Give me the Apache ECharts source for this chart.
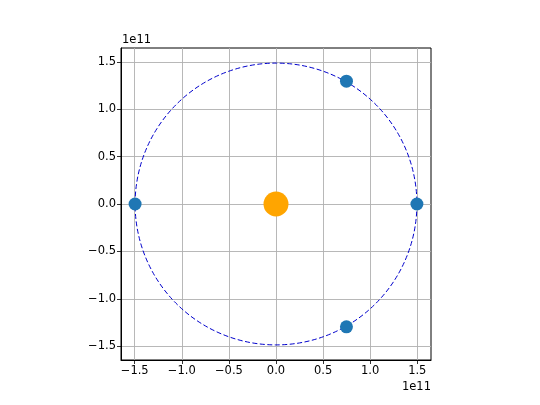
<!DOCTYPE html>
<html><head><meta charset="utf-8">
<script src="https://cdn.jsdelivr.net/npm/echarts@6/dist/echarts.min.js"></script>
<style>html,body{margin:0;padding:0;background:#fff}#c{width:540px;height:405px}</style>
</head><body><div id="c"></div>
<script>
// values in units of 1e11 m
const orbitRadius = [1.496];
const sunPos = [[0, 0]];
const earthX = [1.496, 0.748, -1.496, 0.748];
const earthY = [0, 1.2956, 0, -1.2956];
const tickValues = [-1.5, -1.0, -0.5, 0.0, 0.5, 1.0, 1.5];
const axisLimit = 1.6456;

const fmt = v => v.toFixed(1).replace('-', '\u2212');
const font = 'DejaVu Sans';
const chart = echarts.init(document.getElementById('c'), null, {renderer: 'canvas'});

function axis(isX) {
  return {
    type: 'value', min: -axisLimit, max: axisLimit,
    axisLine: {show: true, onZero: false, lineStyle: {color: '#000', width: 1}},
    axisTick: {show: true, customValues: tickValues, length: 4, inside: false, lineStyle: {color: '#000', width: 0.8}},
    axisLabel: {customValues: tickValues, formatter: fmt, color: '#000', fontFamily: font, fontSize: 11.5, margin: 5},
    splitLine: {show: true, lineStyle: {color: '#b0b0b0', width: 0.9}},
  };
}

chart.setOption({
  animation: false,
  backgroundColor: '#fff',
  grid: {left: 121, right: 109, top: 48, bottom: 45, show: true, borderColor: '#000', borderWidth: 1, backgroundColor: 'transparent'},
  xAxis: axis(true),
  yAxis: axis(false),
  graphic: [
    {type: 'text', left: 122, top: 34, style: {text: '1e11', font: '11.5px DejaVu Sans', fill: '#000'}},
    {type: 'text', right: 109, top: 381, style: {text: '1e11', font: '11.5px DejaVu Sans', fill: '#000'}}
  ],
  series: [
    {
      type: 'custom', z: 2,
      data: orbitRadius.map(r => [0, 0, r]),
      renderItem: function (params, api) {
        const c = api.coord([api.value(0), api.value(1)]);
        const s = api.size([api.value(2), api.value(2)]);
        return {type: 'circle', shape: {cx: c[0], cy: c[1], r: s[0]},
          style: {fill: null, stroke: '#0000cc', lineWidth: 1, lineDash: [5, 2.5]}};
      }
    },
    {type: 'scatter', z: 3, symbolSize: 25, itemStyle: {color: '#ffa500', opacity: 1}, data: sunPos},
    {type: 'scatter', z: 4, symbolSize: 13, itemStyle: {color: '#1f77b4', opacity: 1}, data: earthX.map((x, i) => [x, earthY[i]])}
  ]
});
</script></body></html>
